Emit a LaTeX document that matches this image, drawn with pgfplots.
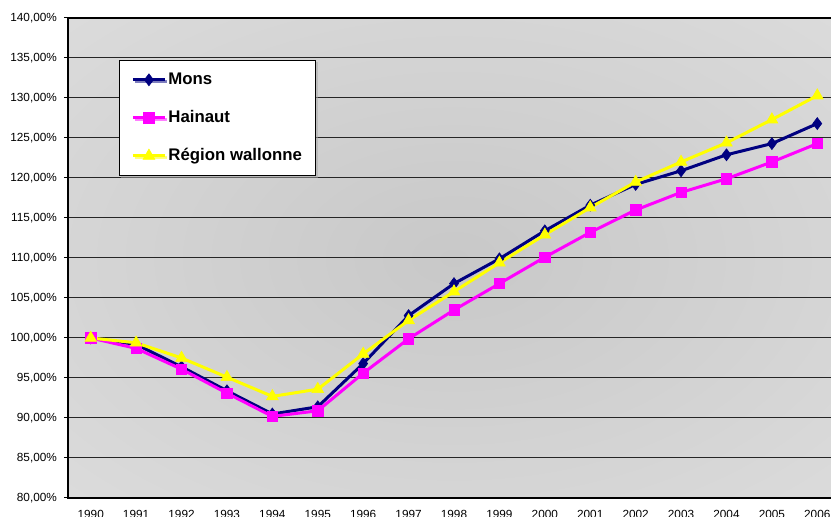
\documentclass[border=0pt]{standalone}
\usepackage{pgfplots}
\pgfplotsset{compat=1.18}
\usepackage{fontspec}
\setmainfont{Liberation Sans}
\usetikzlibrary{shadows}
\definecolor{monsc}{RGB}{0,0,128}
\definecolor{hainc}{RGB}{255,0,255}
\definecolor{walc}{RGB}{255,255,0}
\definecolor{bgin}{RGB}{200,200,200}
\definecolor{bgout}{RGB}{227,227,227}
\pgfdeclareradialshading{excelbg}{\pgfpoint{0bp}{0bp}}{color(0bp)=(bgin); color(50bp)=(bgout); color(71bp)=(bgout)}
\pgfplotstableread{
x mons hain wal
0 100.0 100.0 100.0
1 99.2 98.7 99.4
2 96.4 96.1 97.5
3 93.4 93.1 95.1
4 90.5 90.2 92.7
5 91.4 90.9 93.6
6 96.8 95.6 98.0
7 102.8 99.9 102.2
8 106.8 103.5 105.8
9 109.9 106.8 109.4
10 113.4 110.1 112.9
11 116.6 113.2 116.3
12 119.2 116.0 119.5
13 120.9 118.2 122.0
14 122.9 119.9 124.4
15 124.3 122.0 127.3
16 126.8 124.3 130.3
}\datatable
\begin{document}
\begin{tikzpicture}
\useasboundingbox (-34pt,-9.5pt) rectangle (381.5pt,249pt);
\clip (-34pt,-9.5pt) rectangle (381.5pt,249pt);
\begin{axis}[
  at={(0pt,0pt)}, anchor=south west,
  scale only axis, width=386pt, height=240pt,
  xmin=-0.5, xmax=16.5, ymin=80, ymax=140,
  axis background/.style={shading=excelbg},
  axis line style={black, line width=0.6pt},
  ytick={80,85,...,140},
  yticklabels={{80,00\%},{85,00\%},{90,00\%},{95,00\%},{100,00\%},{105,00\%},{110,00\%},{115,00\%},{120,00\%},{125,00\%},{130,00\%},{135,00\%},{140,00\%}},
  xtick={0,...,16},
  xticklabels={1990,1991,1992,1993,1994,1995,1996,1997,1998,1999,2000,2001,2002,2003,2004,2005,2006},
  minor xtick={-0.5,0.5,...,16.5},
  xtick style={draw=none},
  minor x tick style={black, line width=0.5pt},
  ytick style={black, line width=0.5pt},
  tick align=outside, xtick pos=left, ytick pos=left,
  major tick length=2pt, minor tick length=2pt,
  tick label style={font=\fontsize{5.9}{7}\selectfont, text=black},
  xticklabel style={yshift=-0.8pt},
  ymajorgrids, grid style={black!85, line width=0.5pt},
  legend cell align=left,
  legend image code/.code={\draw[mark repeat=2,mark phase=2,#1] plot coordinates {(0,0) (8pt,0) (16pt,0)};},
  legend style={at={(rel axis cs:0.066,0.9125)}, anchor=north west,
    draw=black, line width=0.5pt, fill=white,
    drop shadow={shadow xshift=1pt, shadow yshift=-1pt, fill=gray!70},
    font=\fontsize{8.4}{10}\selectfont\bfseries,
    inner xsep=6pt, inner ysep=5pt, row sep=9.5pt,
    nodes={inner sep=1pt}},
]
\addplot[monsc, line width=1.5pt, mark=diamond*, mark size=3pt, mark options={fill=monsc, draw=monsc, line width=0.3pt}] table[x=x,y=mons]{\datatable};
\addlegendentry{Mons}
\addplot[hainc, line width=1.5pt, mark=square*, mark size=2.6pt, mark options={fill=hainc, draw=hainc, line width=0.3pt}] table[x=x,y=hain]{\datatable};
\addlegendentry{Hainaut}
\addplot[walc, line width=1.5pt, mark=triangle*, mark size=3.4pt, mark options={fill=walc, draw=walc, line width=0.3pt}] table[x=x,y=wal]{\datatable};
\addlegendentry{Région wallonne}
\end{axis}
\end{tikzpicture}
\end{document}
